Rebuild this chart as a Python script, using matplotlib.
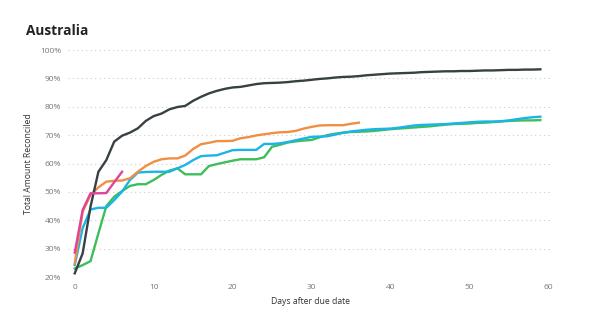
"""Cumulative reconciliation curves by days after due date (Australia)."""

import matplotlib.pyplot as plt
from matplotlib.ticker import FuncFormatter, MultipleLocator

# percent of amount reconciled, one value per day after due date
black_days = list(range(0, 60))
black_vals = [
    21.3, 28.3, 44.8, 57.1, 61.2, 67.7, 69.8, 70.9, 72.4, 75.0,
    76.7, 77.6, 79.1, 79.9, 80.3, 82.1, 83.5, 84.7, 85.6, 86.3,
    86.8, 87.0, 87.5, 88.0, 88.3, 88.4, 88.5, 88.7, 89.0, 89.2,
    89.5, 89.8, 90.0, 90.3, 90.5, 90.6, 90.8, 91.1, 91.3, 91.5,
    91.7, 91.8, 91.9, 92.0, 92.2, 92.3, 92.4, 92.5, 92.5, 92.6,
    92.6, 92.7, 92.8, 92.8, 92.9, 93.0, 93.0, 93.1, 93.1, 93.2,
]

orange_days = list(range(0, 37))
orange_vals = [
    24.8, 43.0, 48.9, 51.6, 53.6, 53.9, 54.0, 54.8, 57.1, 59.1,
    60.6, 61.5, 61.8, 61.8, 62.8, 65.1, 66.8, 67.3, 67.9, 67.9,
    68.0, 68.9, 69.3, 69.9, 70.3, 70.7, 71.0, 71.1, 71.5, 72.3,
    72.9, 73.4, 73.5, 73.5, 73.5, 74.0, 74.4,
]

pink_days = list(range(0, 7))
pink_vals = [28.6, 43.6, 49.5, 49.5, 49.6, 53.4, 57.1]

blue_days = list(range(0, 60))
blue_vals = [
    24.2, 37.2, 43.8, 44.4, 44.4, 47.1, 50.1, 54.2, 56.8, 57.0,
    57.1, 57.1, 57.1, 58.3, 59.5, 61.2, 62.6, 62.8, 62.9, 63.8,
    64.7, 64.8, 64.8, 64.8, 66.9, 66.9, 67.1, 67.6, 68.2, 68.8,
    69.4, 69.5, 69.6, 70.2, 70.8, 71.3, 71.6, 71.9, 72.1, 72.2,
    72.3, 72.6, 73.0, 73.4, 73.6, 73.7, 73.8, 73.9, 74.1, 74.3,
    74.5, 74.7, 74.8, 74.8, 74.9, 75.2, 75.6, 76.0, 76.3, 76.5,
]

green_days = list(range(0, 60))
green_vals = [
    23.0, 24.2, 25.6, 35.4, 45.0, 48.3, 50.3, 52.1, 52.7, 52.7,
    54.2, 56.0, 57.5, 58.3, 56.2, 56.2, 56.2, 59.1, 59.8, 60.4,
    61.0, 61.5, 61.5, 61.5, 62.2, 65.9, 66.6, 67.4, 67.8, 68.1,
    68.3, 69.2, 70.0, 70.5, 70.9, 71.1, 71.2, 71.3, 71.5, 71.8,
    72.1, 72.3, 72.5, 72.7, 72.9, 73.1, 73.4, 73.7, 73.9, 74.0,
    74.1, 74.3, 74.4, 74.6, 74.8, 75.0, 75.1, 75.2, 75.2, 75.3,
]

y_ticks = [20, 30, 40, 50, 60, 70, 80, 90, 100]

plt.rcParams["font.family"] = ["Open Sans", "DejaVu Sans"]

fig = plt.figure(figsize=(5.89, 3.29), dpi=100)
ax = fig.add_axes([0.1155, 0.158, 0.822, 0.690])

series = [
    (green_days, green_vals, "#3dbe5a"),
    (blue_days, blue_vals, "#1ab4ea"),
    (orange_days, orange_vals, "#f28e42"),
    (black_days, black_vals, "#374043"),
    (pink_days, pink_vals, "#e0449a"),
]
for days, vals, color in series:
    ax.plot(days, vals, color=color, linewidth=1.7, solid_joinstyle="miter")

ax.set_xlim(-0.85, 60.5)
ax.set_ylim(20, 100)
ax.set_yticks(y_ticks)
ax.xaxis.set_major_locator(MultipleLocator(10))
ax.yaxis.set_major_formatter(FuncFormatter(lambda v, _: f"{v:.0f}%"))

ax.grid(axis="y", color="#cccccc", linestyle=(0, (1, 3)), linewidth=0.8)
ax.set_axisbelow(True)
for spine in ax.spines.values():
    spine.set_visible(False)
ax.tick_params(length=0, labelsize=6, labelcolor="#777777", pad=5)

ax.set_xlabel("Days after due date", fontsize=6.2, color="#333333", labelpad=4)
ax.set_ylabel("Total Amount Reconciled", fontsize=6.2, color="#333333", labelpad=5)

fig.text(0.044, 0.905, "Australia", fontsize=9.8, fontweight="bold", color="#222222",
         va="center", ha="left")

fig.savefig("out.png", dpi=100)
